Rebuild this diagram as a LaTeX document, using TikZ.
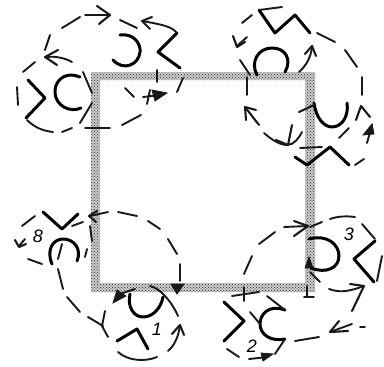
\documentclass[tikz,border=0pt]{standalone}
\usepackage{fontspec}
\setmainfont{Liberation Sans}
\usetikzlibrary{arrows,patterns}

\begin{document}
\begin{tikzpicture}[x=1pt,y=-1pt,
    frameline/.style={even odd rule, fill=gray!40, draw=none},
    framedots/.style={even odd rule, pattern=crosshatch dots, pattern color=black!85, draw=none},
    organ/.style={line width=3pt, black, line join=round, line cap=round},
    piece/.style={line width=1.9pt, black!90, line cap=round},
    headline/.style={line width=2.1pt, black!90, line join=round, line cap=round},
    fathead/.style={fill=black!90, draw=black!90, line width=.8pt},
    numeral/.style={font=\fontsize{18}{18}\itshape\selectfont, inner sep=0pt}
]
    \useasboundingbox (0,0) rectangle (384,367);

    % square
    \fill[frameline] (91,72) rectangle (315,292) (100,80) rectangle (305,283);
    \fill[framedots] (91,72) rectangle (315,292) (100,80) rectangle (305,283);

    % symbols, clockwise from the top left
    \draw[organ] (28,80) -- (45,98) -- (26,118);
    \draw[organ] (80,77) .. controls (62,70) and (54,84) .. (55,93) .. controls (56,106) and (70,113) .. (81,108);
    \draw[organ] (120,35) .. controls (134,33) and (141,44) .. (140,52) .. controls (139,64) and (124,72) .. (113,60);
    \draw[organ] (177,33) -- (158,52) -- (180,68);
    \draw[organ] (259,10) -- (275,33) -- (295,15) -- (310,33);
    \draw[organ] (257,75) .. controls (250,62) and (258,48) .. (272,48) .. controls (286,48) and (292,60) .. (285,72);
    \draw[organ] (314,103) .. controls (316,118) and (324,127) .. (332,127) .. controls (342,127) and (349,116) .. (347,103);
    \draw[organ] (295,157) -- (307,165) -- (330,147) -- (349,165);
    \draw[organ] (309,239) .. controls (328,234) and (339,245) .. (339,256) .. controls (339,268) and (326,274) .. (311,268);
    \draw[organ] (375,241) -- (354,259) -- (374,282);
    \draw[organ] (224,302) -- (244,321) -- (224,341);
    \draw[organ] (285,310) .. controls (268,304) and (260,315) .. (260,324) .. controls (260,334) and (270,342) .. (285,339);
    \draw[organ] (117,341) -- (137,329) -- (148,349);
    \draw[organ] (130,294) .. controls (127,307) and (134,317) .. (143,317) .. controls (153,317) and (161,308) .. (163,297);
    \draw[organ] (43,212) -- (62,229) -- (78,214);
    \draw[organ] (52,264) .. controls (46,250) and (53,239) .. (63,239) .. controls (74,239) and (82,249) .. (77,261);

    % numerals
    \node[numeral] (n8) at (38,236) {8};
    \node[numeral] (n1) at (157,329) {1};
    \node[numeral] (n2) at (252,346) {2};
    \node[numeral] (n3) at (349,234) {3};

    % top left loops
    \draw[piece] (35,62) -- (23,72);
    \draw[piece] (17,87) -- (18,105);
    \draw[piece] (27,120) .. controls (35,128) and (44,131) .. (53,132);
    \draw[piece] (62,132) -- (72,128);
    \draw[piece] (80,123) -- (92,103);
    \draw[piece] (92,93) -- (83,72);
    \draw[piece] (72,62) .. controls (65,58) and (55,56) .. (47,57);
    \draw[headline] (58,50) -- (45,57) -- (57,65);
    \draw[piece] (50,35) -- (45,50);
    \draw[piece] (62,28) -- (80,17);
    \draw[piece] (85,15) -- (110,15);
    \draw[headline] (97,6) -- (110,15) -- (99,24);
    \draw[piece] (120,20) -- (137,28);
    \draw[piece] (157,70) -- (157,82);
    \draw[piece] (141,115) -- (122,125);
    \draw[piece] (110,128) -- (85,128);
    \draw[piece] (183,78) -- (177,92);
    \draw[piece] (125,88) -- (134,97);
    \draw[piece] (143,97) -- (160,95);
    \draw[fathead] (167,93) -- (152,90) -- (155,101) -- cycle;
    \draw[piece] (150,90) -- (147,104);
    \draw[piece] (177,33) .. controls (172,27) and (165,25) .. (142,21);
    \draw[headline] (152,17) -- (142,21) -- (150,29);

    % top right loops
    \draw[piece] (259,10) -- (282,7);
    \draw[piece] (242,23) -- (252,15);
    \draw[piece] (247,37) -- (237,46);
    \draw[headline] (233,36) -- (237,47) -- (245,42);
    \draw[piece] (240,60) -- (250,75);
    \draw[piece] (247,77) -- (247,95);
    \draw[piece] (299,72) .. controls (306,66) and (311,57) .. (312,47);
    \draw[headline] (305,54) -- (312,46) -- (316,56);
    \draw[piece] (317,33) -- (335,42);
    \draw[piece] (345,50) -- (357,67);
    \draw[piece] (362,77) -- (362,95);
    \draw[headline] (356,120) -- (361,106) -- (370,117);
    \draw[piece] (372,125) -- (367,143);
    \draw[fathead] (372,124) -- (363,135) -- (374,134) -- cycle;
    \draw[piece] (355,165) -- (364,159);
    \draw[piece] (349,128) -- (339,138);
    \draw[headline] (299,112) -- (314,105);
    \draw[headline] (245,107) -- (259,125);
    \draw[headline] (245,107) -- (246,120);
    \draw[headline] (245,107) -- (256,110);
    \draw[piece] (264,133) .. controls (272,140) and (280,145) .. (287,145) .. controls (294,145) and (299,138) .. (302,132);
    \draw[headline] (292,125) -- (288,145) -- (276,140);
    \draw[piece] (300,148) -- (322,147);

    % bottom right loops
    \draw[piece] (244,274) -- (252,256);
    \draw[piece] (259,244) -- (275,232);
    \draw[piece] (284,227) -- (308,226);
    \draw[headline] (294,221) -- (308,226) -- (294,236);
    \draw[piece] (310,227) -- (322,222);
    \draw[piece] (330,219) .. controls (338,216) and (348,216) .. (355,217);
    \draw[piece] (362,224) -- (375,239);
    \draw[piece] (382,256) -- (377,281);
    \draw[piece] (310,272) -- (320,282);
    \draw[fathead] (309,257) -- (305,268) -- (313,268) -- cycle;
    \draw[piece] (329,289) .. controls (338,292) and (345,293) .. (364,286);
    \draw[headline] (350,284) -- (364,286) -- (352,311);
    \draw[piece] (319,337) -- (295,341);
    \draw[headline] (339,321) -- (330,332) -- (348,331);
    \draw[piece] (352,324) -- (330,332);
    \draw[piece] (360,327) -- (365,327);
    \draw[piece] (232,296) -- (259,292);
    \draw[piece] (244,287) -- (244,301);
    \draw[piece] (307,286) -- (307,297);
    \draw[piece] (304,297) -- (314,297);
    \draw[piece] (250,312) -- (260,324);
    \draw[piece] (267,296) -- (285,310);
    \draw[piece] (285,339) -- (275,354);
    \draw[piece] (227,349) -- (239,357);
    \draw[piece] (249,359) -- (268,357);
    \draw[fathead] (273,354) -- (261,353) -- (263,361) -- cycle;

    % bottom left loops
    \draw[piece] (35,216) -- (22,226);
    \draw[piece] (25,239) -- (19,246);
    \draw[headline] (15,240) -- (19,247) -- (26,244);
    \draw[piece] (28,259) -- (42,264);
    \draw[piece] (72,226) -- (83,222);
    \draw[piece] (90,226) -- (92,241);
    \draw[piece] (87,249) -- (85,257);
    \draw[piece] (58,269) -- (63,289);
    \draw[piece] (67,297) -- (80,312);
    \draw[piece] (88,317) -- (103,326);
    \draw[piece] (105,311) -- (102,326) -- (108,337);
    \draw[piece] (108,212) -- (90,216);
    \draw[headline] (89,216) -- (97,211);
    \draw[headline] (89,216) -- (96,222);
    \draw[piece] (118,212) -- (137,216);
    \draw[piece] (148,221) -- (160,229);
    \draw[piece] (168,239) -- (177,254);
    \draw[piece] (180,264) -- (180,281);
    \draw[fathead] (177,294) -- (171,284) -- (184,284) -- cycle;
    \draw[fathead] (113,303) -- (117,290) -- (126,296) -- cycle;
    \draw[piece] (120,294) -- (135,289);
    \draw[piece] (150,286) .. controls (160,288) and (172,302) .. (178,316);
    \draw[piece] (168,351) .. controls (175,345) and (178,337) .. (180,326);
    \draw[headline] (172,334) -- (180,325) -- (184,335);
    \draw[piece] (118,352) .. controls (128,361) and (145,362) .. (157,357);
    \draw[piece] (62,244) -- (58,259);
\end{tikzpicture}
\end{document}
